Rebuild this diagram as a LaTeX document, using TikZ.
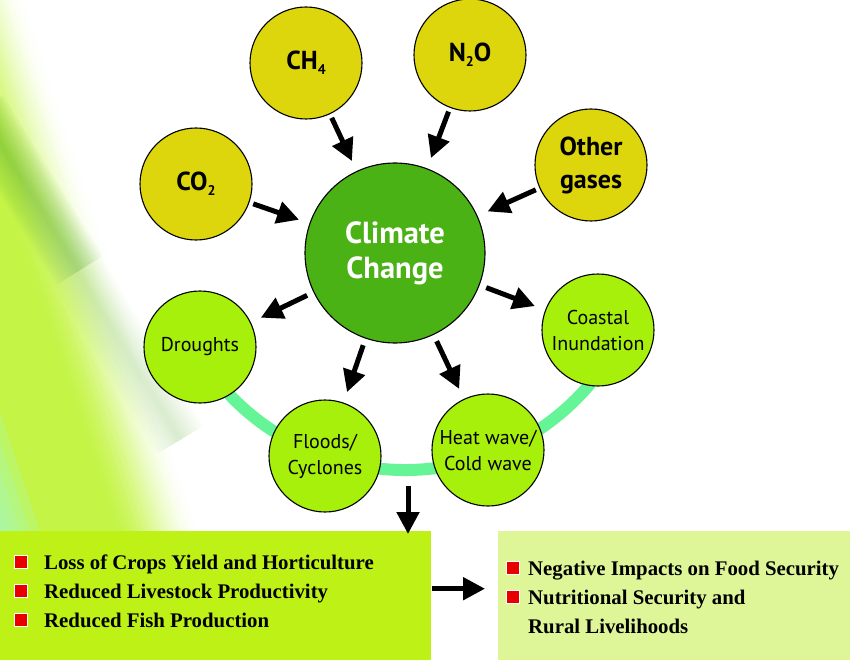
\documentclass[tikz,border=0pt]{standalone}
\usepackage{fontspec}
\setmainfont{Liberation Serif}
\setsansfont{PT Sans}
\usetikzlibrary{arrows.meta}
\definecolor{bglime}{RGB}{196,244,70}
\definecolor{bgstreak}{RGB}{90,175,40}
\definecolor{bgcyan}{RGB}{160,250,215}
\definecolor{gasyellow}{RGB}{222,214,12}
\definecolor{ccgreen}{RGB}{74,178,20}
\definecolor{efflime}{RGB}{166,240,12}
\definecolor{arcmint}{RGB}{102,245,150}
\definecolor{leftbox}{RGB}{190,242,22}
\definecolor{rightbox}{RGB}{222,246,152}
\definecolor{bulletred}{RGB}{232,0,0}
\newcommand{\gsub}[1]{\raisebox{-5pt}{\fontsize{14}{14}\selectfont #1}}
\begin{document}
\begin{tikzpicture}[x=1pt,y=-1pt,
  gas/.style={circle, draw=black, line width=1.1pt, fill=gasyellow, minimum size=112pt, inner sep=0pt,
    font=\sffamily\bfseries\fontsize{26}{33}\selectfont, align=center},
  eff/.style={circle, draw=black, line width=1.1pt, fill=efflime, minimum size=112pt, inner sep=0pt,
    font=\sffamily\fontsize{20}{26}\selectfont, align=center},
  ccnode/.style={circle, draw=black, line width=1.1pt, fill=ccgreen, minimum size=180pt, inner sep=0pt,
    font=\sffamily\bfseries\fontsize{30.5}{35}\selectfont, text=white, align=center},
  arr/.style={line width=5pt, -{Triangle[length=22pt,width=22pt]}},
  inarr/.style={arr, shorten <=4pt, shorten >=11pt},
  outarr/.style={arr, shorten <=7pt, shorten >=11pt},
  boxnode/.style={rectangle, draw=none, inner sep=0pt, anchor=north west, minimum height=129pt},
  bul/.style={rectangle, fill=bulletred, draw=white, line width=1pt, minimum size=13pt, inner sep=0pt},
  btxt/.style={anchor=base west, inner sep=0pt, font=\bfseries\fontsize{20.8}{24}\selectfont}
]
\useasboundingbox (0,0) rectangle (850,660);
\fill[white] (0,0) rectangle (850,660);
% background gradient
\begin{scope}
  \clip (0,0) rectangle (430,531);
  \foreach \xo in {0,3,...,260}{
    \pgfmathsetmacro{\t}{max(0,min(1,(200-\xo)/90))}
    \pgfmathsetmacro{\p}{100*\t*\t*(3-2*\t)}
    \fill[bglime!\p!white] (\xo,531) -- ++(4,0) -- ++(-175,-531) -- ++(-4,0) -- cycle;
  }
  % cyan tint bottom-left
  \foreach \w in {10,20,30,40}{
    \fill[bgcyan, opacity=0.22] (0,531-3*\w) -- (\w,531) -- (0,531) -- cycle;
  }
  % darker diagonal streak
  \foreach \w in {6,12,...,54}{
    \draw[bgstreak, opacity=0.022, line width=\w pt] (-20,110) -- (180,440);
  }
  \foreach \w in {6,12,...,54}{
    \draw[bgstreak, opacity=0.035, line width=\w pt] (-20,110) -- (80,270);
  }
\end{scope}
% arc
\draw[arcmint, line width=12pt] (405,228) ++(148:242) arc[start angle=148, end angle=32, radius=242];
% boxes
\node[boxnode, fill=leftbox, minimum width=431pt] (lb) at (0,531) {};
\node[boxnode, fill=rightbox, minimum width=352pt] (rb) at (498,531) {};
% circles
\node[ccnode] (cc) at (395,253) {Climate\\Change};
\node[gas] (ch4) at (306,63) {CH\gsub{4}};
\node[gas] (n2o) at (470,55) {N\gsub{2}O};
\node[gas] (co2) at (196,184) {CO\gsub{2}};
\node[gas] (oth) at (591,165) {Other\\gases};
\node[eff] (dro) at (200,347) {Droughts};
\node[eff] (flo) at (325,456) {Floods/\\Cyclones};
\node[eff] (hea) at (488,450) {Heat wave/\\Cold wave};
\node[eff] (coa) at (598,330) {Coastal\\Inundation};
% arrows
\draw[inarr] (ch4) -- (cc);
\draw[inarr] (n2o) -- (cc);
\draw[inarr] (oth) -- (cc);
\draw[inarr] (co2) -- (cc);
\draw[outarr] (cc) -- (dro);
\draw[outarr] (cc) -- (flo);
\draw[outarr] (cc) -- (hea);
\draw[outarr] (cc) -- (coa);
\coordinate (vtop) at (408,486);
\draw[arr, shorten >=-3pt] (vtop) -- (vtop |- lb.north);
\draw[arr, shorten <=1pt, shorten >=13pt] ([yshift=7pt]lb.east) -- ([yshift=7pt]rb.west);
% box texts
\node[bul] (b1) at (21,562) {};
\node[bul] (b2) at (21,591) {};
\node[bul] (b3) at (21,620) {};
\node[btxt] (t1) at (44,569) {Loss of Crops Yield and Horticulture};
\node[btxt] (t2) at (44,598) {Reduced Livestock Productivity};
\node[btxt] (t3) at (44,627) {Reduced Fish Production};
\node[bul] (b4) at (513,568) {};
\node[bul] (b5) at (513,597) {};
\node[btxt] (t4) at (528,575) {Negative Impacts on Food Security};
\node[btxt] (t5) at (528,604) {Nutritional Security and};
\node[btxt] (t6) at (528,633) {Rural Livelihoods};
\end{tikzpicture}
\end{document}
